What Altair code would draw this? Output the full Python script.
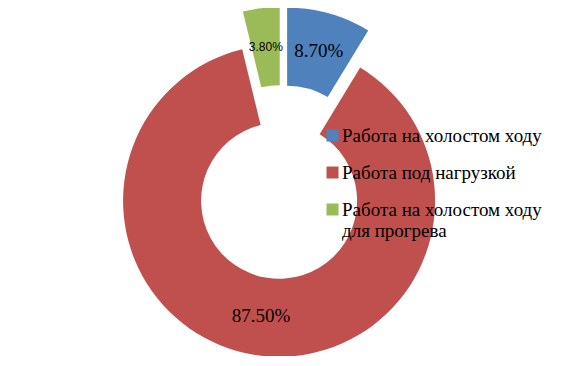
import altair as alt
import pandas as pd

categories = ["Работа на холостом ходу", "Работа под нагрузкой",
              "Работа на холостом ходу для прогрева"]
values = [8.7, 87.5, 3.8]
labels = ["8.70%", "87.50%", "3.80%"]
colors = ["#4F81BD", "#C0504D", "#9BBB59"]

W, H = 548, 348
CX, CY = W / 2, H / 2
R_OUT, R_IN = 156, 78
EXPLODE = 19
LABEL_R = 117

df = pd.DataFrame({"cat": categories, "value": values, "label": labels,
                   "idx": list(range(len(categories)))})

base = (
    alt.Chart(df)
    .transform_window(cum="sum(value)", sort=[alt.SortField("idx")], frame=[None, 0])
    .transform_joinaggregate(total="sum(value)")
    .transform_calculate(t1="datum.cum / datum.total * 2 * PI")
    .transform_calculate(t0="(datum.cum - datum.value) / datum.total * 2 * PI")
    .transform_calculate(mid="(datum.t0 + datum.t1) / 2")
    .transform_calculate(ox=f"{CX} + {EXPLODE} * sin(datum.mid)")
    .transform_calculate(oy=f"{CY} - {EXPLODE} * cos(datum.mid)")
    .transform_calculate(lx=f"datum.ox + {LABEL_R} * sin(datum.mid)")
    .transform_calculate(ly=f"datum.oy - {LABEL_R} * cos(datum.mid)")
)

wrap_expr = ("datum.label == 'Работа на холостом ходу для прогрева' ? "
             "['Работа на холостом ходу', 'для прогрева'] : datum.label")

arcs = base.mark_arc(outerRadius=R_OUT, innerRadius=R_IN).encode(
    x=alt.X("ox:Q", scale=None, axis=None),
    y=alt.Y("oy:Q", scale=None, axis=None),
    theta=alt.Theta("t0:Q", scale=None),
    theta2="t1:Q",
    color=alt.Color(
        "cat:N",
        scale=alt.Scale(domain=categories, range=colors),
        sort=categories,
        legend=alt.Legend(
            title=None, orient="none", legendX=315, legendY=118,
            symbolType="square", symbolSize=144, symbolStrokeWidth=0,
            labelFont="Liberation Serif", labelFontSize=19, labelColor="black",
            labelLimit=400, labelOffset=0, rowPadding=17, padding=0,
            labelExpr=wrap_expr,
        ),
    ),
)

big_labels = base.transform_filter("datum.idx < 2").mark_text(
    font="Liberation Serif", fontSize=19, color="black",
    align="center", baseline="middle",
).encode(
    x=alt.X("lx:Q", scale=None, axis=None),
    y=alt.Y("ly:Q", scale=None, axis=None),
    text="label:N",
)

small_labels = base.transform_filter("datum.idx == 2").mark_text(
    font="Liberation Sans", fontSize=12, color="black",
    align="center", baseline="middle",
).encode(
    x=alt.X("lx:Q", scale=None, axis=None),
    y=alt.Y("ly:Q", scale=None, axis=None),
    text="label:N",
)

chart = (
    alt.layer(arcs, big_labels, small_labels)
    .properties(width=W, height=H, padding=0, autosize=alt.AutoSizeParams(type="none"))
    .configure_view(stroke=None)
)

chart.save("out.html", embed_options={"renderer": "svg", "actions": False})
